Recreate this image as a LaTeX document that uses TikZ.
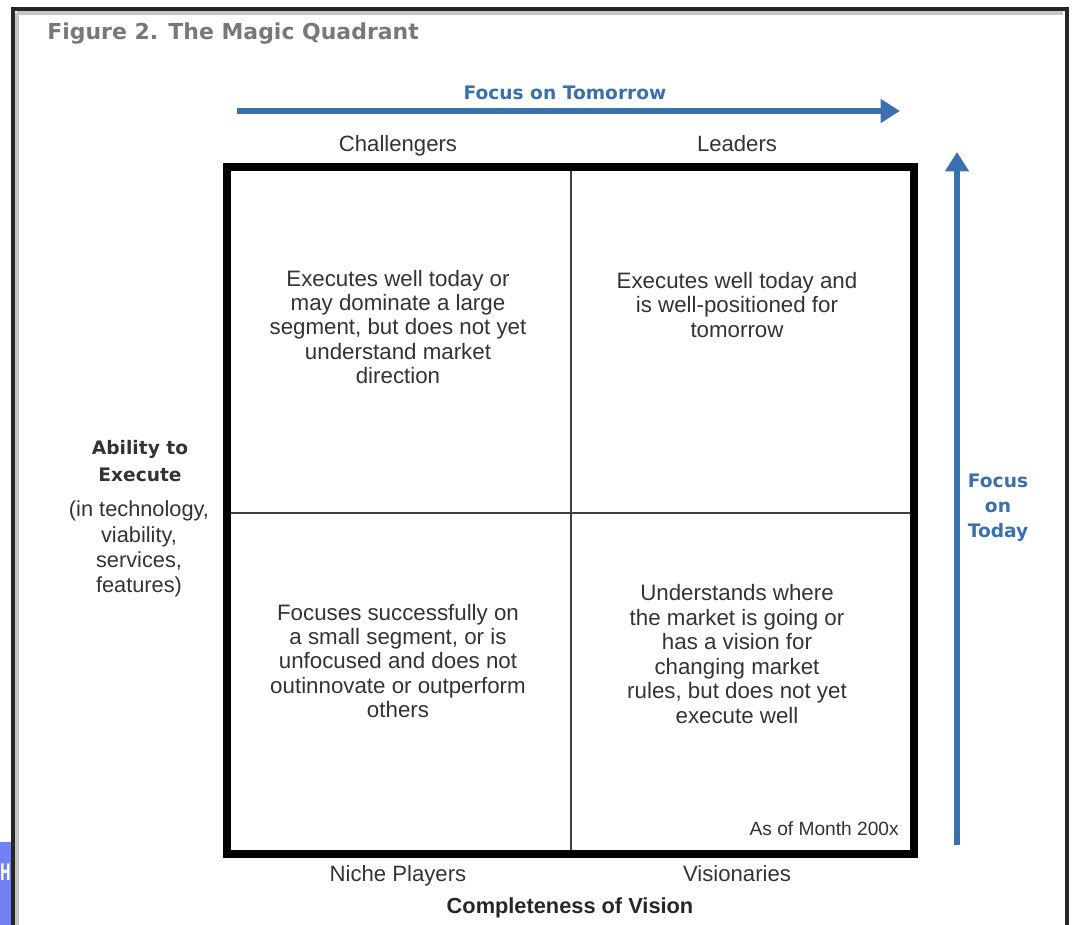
\documentclass[tikz,border=0pt]{standalone}
\usepackage{fontspec}
\setmainfont{Liberation Sans}
\newfontfamily\boldsans{DejaVu Sans}
\usetikzlibrary{arrows.meta}
\definecolor{focusblue}{RGB}{58,112,176}
\definecolor{txtgray}{RGB}{51,51,51}
\definecolor{titlegray}{RGB}{120,120,120}
\definecolor{hblue}{RGB}{112,128,245}
\tikzset{
  quadtext/.style={align=center, text=txtgray, inner sep=0,
    font=\fontsize{12.7}{13.9}\selectfont},
  corner/.style={text=txtgray, inner sep=0, text height=1.6ex, text depth=.4ex,
    font=\fontsize{12.6}{14}\selectfont},
  focuslabel/.style={text=focusblue, inner sep=0, align=center,
    font=\boldsans\bfseries\fontsize{10.6}{14.2}\selectfont},
  focusarrow/.style={draw=focusblue, line width=3.4pt,
    -{Triangle[length=11pt, width=13pt]}},
}
\begin{document}
\begin{tikzpicture}[x=0.02cm, y=-0.02cm]
  \useasboundingbox (0,0) rectangle (1072,924);

  % frame
  \draw[gray!45, line width=2.5pt] (17,13) -- (17,940);
  \draw[gray!45, line width=2.5pt] (17,13) -- (1063,13);
  \draw[black!85, line width=1.8pt] (13,940) -- (13,9) -- (1067,9) -- (1067,940);
  \fill[hblue] (-5,842) rectangle (11,930);
  \node[xscale=0.55, inner sep=0, text=white, font=\boldsans\bfseries\fontsize{13}{16}\selectfont] (hmark) at (5.5,872) {H};

  % title
  \node[anchor=west, inner sep=0, text=titlegray, font=\boldsans\bfseries\fontsize{12.5}{14}\selectfont] (title) at (47,34) {Figure 2. The Magic Quadrant};

  % focus on tomorrow
  \coordinate (tmrwstart) at (237,111);
  \coordinate (tmrwend) at (900,111);
  \draw[focusarrow] (tmrwstart) -- (tmrwend);
  \node[focuslabel] (tmrw) at (565,93) {Focus on Tomorrow};

  % focus on today
  \coordinate (todaystart) at (957,845);
  \coordinate (todayend) at (957,152);
  \draw[focusarrow] (todaystart) -- (todayend);
  \node[focuslabel] (today) at (998,508) {Focus\\on\\Today};

  % quadrant box
  \draw[line width=5pt] (227,167) rectangle (914,854);
  \draw[black!75, line width=1.1pt] (571,171) -- (571,850);
  \draw[black!75, line width=1.1pt] (231,513) -- (910,513);

  % quadrant names
  \node[corner] (chal) at (398,146) {Challengers};
  \node[corner] (lead) at (737,146) {Leaders};
  \node[corner] (niche) at (398,876) {Niche Players};
  \node[corner] (vis) at (737,876) {Visionaries};

  % quadrant texts
  \node[quadtext] (chaltext) at (398,327) {Executes well today or\\may dominate a large\\segment, but does not yet\\understand market\\direction};
  \node[quadtext] (leadtext) at (737,305) {Executes well today and\\is well-positioned for\\tomorrow};
  \node[quadtext] (nichetext) at (398,661) {Focuses successfully on\\a small segment, or is\\unfocused and does not\\outinnovate or outperform\\others};
  \node[quadtext] (vistext) at (737,654) {Understands where\\the market is going or\\has a vision for\\changing market\\rules, but does not yet\\execute well};
  \node[anchor=east, inner sep=0, text=txtgray, font=\fontsize{10.9}{12}\selectfont] (asof) at (899,829) {As of Month 200x};

  % axis labels
  \node[align=center, inner sep=0, text=txtgray, font=\boldsans\bfseries\fontsize{10.6}{15.3}\selectfont] (ability) at (140,461) {Ability to\\Execute};
  \node[quadtext, font=\fontsize{12.4}{14.3}\selectfont] (abilitysub) at (139,549) {(in technology,\\viability,\\services,\\features)};
  \node[corner, font=\bfseries\fontsize{12.4}{14}\selectfont, text=black!85] (vision) at (570,908) {Completeness of Vision};
\end{tikzpicture}
\end{document}
